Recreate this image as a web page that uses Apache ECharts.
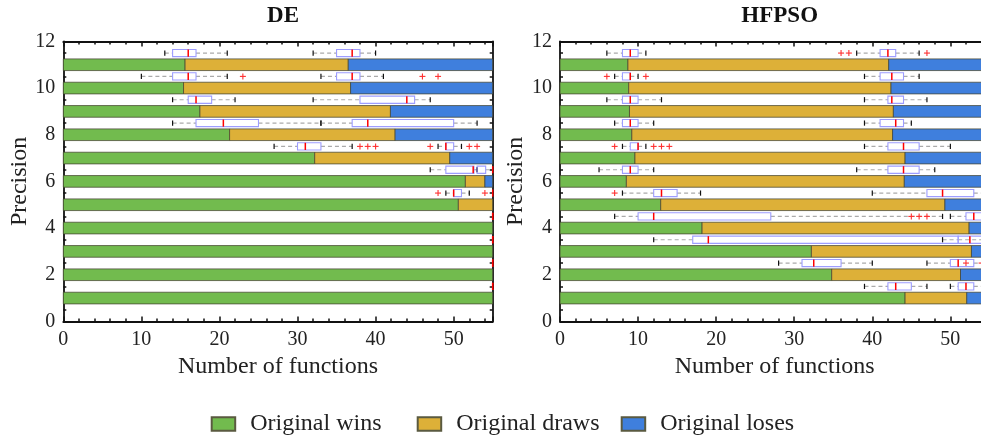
<!DOCTYPE html>
<html>
<head>
<meta charset="utf-8">
<script src="https://cdn.jsdelivr.net/npm/echarts@6/dist/echarts.min.js"></script>
<style>
html,body{margin:0;padding:0;background:#fff;}
#chart{width:981px;height:436px;}
</style>
</head>
<body>
<div id="chart"></div>
<script>
// ---------------- DATA ----------------
const panelTitles = ['DE', 'HFPSO'];
const seriesNames = ['Original wins', 'Original draws', 'Original loses'];
const precisionRows = [1, 2, 3, 4, 5, 6, 7, 8, 9, 10, 11];
const boxRows = [1.5, 2.5, 3.5, 4.5, 5.5, 6.5, 7.5, 8.5, 9.5, 10.5, 11.5];
const xTickLabels = [0, 10, 20, 30, 40, 50];
const yTickLabels = [0, 2, 4, 6, 8, 10, 12];

// DE panel (rows precision 1..11)
const DE_wins  = [55, 55, 55, 55, 50.6, 51.5, 32.2, 21.3, 17.5, 15.4, 15.6];
const DE_draws = [0, 0, 0, 0, 4.4, 2.5, 17.3, 21.2, 24.4, 21.4, 20.9];
const DE_loses = [0, 0, 0, 0, 0, 1.0, 5.5, 12.5, 13.1, 18.2, 18.5];

// DE boxplots, rows 1.5..11.5: [low, q1, median, q3, high]
const DE_boxA = [
  [55, 55, 55, 55, 55], [55, 55, 55, 55, 55], [55, 55, 55, 55, 55], [55, 55, 55, 55, 55],
  [49, 50, 50, 51, 52], [47, 49, 52.5, 52.6, 53], [27, 30, 31, 33, 37], [14, 17, 20.5, 25, 33],
  [14, 16, 17, 19, 22], [10, 14, 16, 17, 21], [13, 14, 16, 17, 21]
];
const DE_outA = [[], [], [], [], [48, 54], [], [38, 39, 40], [], [], [23], []];
const DE_boxB = [
  [55, 55, 55, 55, 55], [55, 55, 55, 55, 55], [55, 55, 55, 55, 55], [55, 55, 55, 55, 55],
  [55, 55, 55, 55, 55], [53, 53, 55, 54.1, 55], [48, 49, 49, 50, 51], [33, 37, 39, 50, 53],
  [32, 38, 44, 45, 47], [33, 35, 37, 38, 41], [32, 35, 37, 38, 40]
];
const DE_outB = [[], [], [], [], [], [], [47, 52, 53], [], [], [46, 48], []];

// HFPSO panel
const HF_wins  = [44.2, 34.8, 32.2, 18.2, 12.9, 8.5, 9.6, 9.2, 8.9, 8.8, 8.7];
const HF_draws = [7.9, 16.5, 20.5, 34.2, 36.4, 35.6, 34.6, 33.4, 33.8, 33.6, 33.4];
const HF_loses = [2.9, 3.7, 2.3, 2.6, 5.7, 10.9, 10.8, 12.4, 12.3, 12.6, 12.9];

const HF_boxA = [
  [39, 42, 43, 45, 47], [28, 31, 32.5, 36, 40], [12, 17, 19, 51, 55], [7, 10, 12, 27, 49],
  [8, 12, 13, 15, 18], [5, 8, 9, 10, 12], [8, 9, 10, 10, 11], [7, 8, 9, 10, 12],
  [6, 8, 9, 10, 13], [7, 8, 9, 9, 10], [6, 8, 9, 10, 11]
];
const HF_outA = [[], [], [], [45, 46, 47], [7], [], [7, 12, 13, 14], [], [], [6, 11], []];
const HF_boxB = [
  [50, 51, 52, 53, 55], [47, 50, 51, 53, 55], [49, 51, 52.5, 55, 55], [50, 52, 53, 55, 55],
  [40, 47, 49, 53, 55], [38, 42, 44, 46, 48], [39, 42, 44, 46, 50], [39, 41, 43, 44, 45],
  [39, 42, 42.5, 44, 47], [39, 41, 42.5, 44, 46], [38, 41, 42, 43, 46]
];
const HF_outB = [[], [52, 54], [], [], [], [], [], [], [], [], [36, 37, 47]];

// ---------------- STYLE ----------------
const FONT = 'Liberation Serif';
const colors = ['#72BB4E', '#DDB038', '#3F7FDD'];
const barEdge = 'rgba(70,70,50,0.75)';

const panels = [
  {wins: DE_wins, draws: DE_draws, loses: DE_loses, boxes: [DE_boxA, DE_boxB], outs: [DE_outA, DE_outB]},
  {wins: HF_wins, draws: HF_draws, loses: HF_loses, boxes: [HF_boxA, HF_boxB], outs: [HF_outA, HF_outB]}
];

const gridDefs = [
  {left: 63.3, top: 41.4, width: 429.4, height: 280},
  {left: 560, top: 41.4, width: 429.4, height: 280}
];

const xAxes = [], yAxes = [], series = [], titles = [];
gridDefs.forEach((g, gi) => {
  const common = {
    type: 'value', gridIndex: gi, min: 0,
    axisLine: {show: true, onZero: false, lineStyle: {color: '#111', width: 1.8}},
    splitLine: {show: false}
  };
  const tick = {show: true, inside: true, length: 5, lineStyle: {color: '#111', width: 1.5}};
  xAxes.push(Object.assign({}, common, {
    position: 'bottom', max: 55, interval: 10,
    axisTick: tick,
    minorTick: {show: true, splitNumber: 5, length: 3, lineStyle: {color: '#111', width: 1.5}},
    axisLabel: {show: true, fontFamily: FONT, fontSize: 20, color: '#222', margin: 8,
      formatter: v => xTickLabels.includes(v) ? String(v) : ''},
    name: 'Number of functions', nameLocation: 'middle', nameGap: 33,
    nameTextStyle: {fontFamily: FONT, fontSize: 24, color: '#222'}
  }));
  xAxes.push(Object.assign({}, common, {
    position: 'top', max: 55, interval: 10,
    axisTick: tick,
    minorTick: {show: true, splitNumber: 5, length: 3, lineStyle: {color: '#111', width: 1.5}},
    axisLabel: {show: false}
  }));
  yAxes.push(Object.assign({}, common, {
    position: 'left', max: 12, interval: 2,
    axisTick: tick,
    minorTick: {show: true, splitNumber: 4, length: 3, lineStyle: {color: '#111', width: 1.5}},
    axisLabel: {show: true, fontFamily: FONT, fontSize: 20, color: '#222', margin: 8,
      formatter: v => yTickLabels.includes(v) ? String(v) : ''},
    name: 'Precision', nameLocation: 'middle', nameGap: 30, nameRotate: 90,
    nameTextStyle: {fontFamily: FONT, fontSize: 24, color: '#222'}
  }));
  yAxes.push(Object.assign({}, common, {
    position: 'right', max: 12, interval: 2,
    axisTick: tick,
    minorTick: {show: true, splitNumber: 4, length: 3, lineStyle: {color: '#111', width: 1.5}},
    axisLabel: {show: false}
  }));
  titles.push({
    text: panelTitles[gi], left: g.left + 429.4 / 2, top: 0, textAlign: 'center',
    textStyle: {fontFamily: FONT, fontSize: 23, fontWeight: 'bold', color: '#111'}
  });
});

function barRender(color) {
  return function (params, api) {
    const s = api.value(0), e = api.value(1), y = api.value(2);
    if (e - s <= 0) return null;
    const p0 = api.coord([s, y]);
    const p1 = api.coord([e, y]);
    const h = api.size([0, 0.5])[1];
    return {
      type: 'rect',
      shape: {x: p0[0], y: p0[1] - h / 2, width: p1[0] - p0[0], height: h},
      style: {fill: color, stroke: barEdge, lineWidth: 1}
    };
  };
}

function boxRender(params, api) {
  const y = api.value(0);
  const lo = api.coord([api.value(1), y]);
  const q1 = api.coord([api.value(2), y]);
  const md = api.coord([api.value(3), y]);
  const q3 = api.coord([api.value(4), y]);
  const hi = api.coord([api.value(5), y]);
  const cy = lo[1];
  const bh = 3.6, ch = 2.6;
  const dash = {stroke: '#aaaaaa', lineWidth: 1.2, lineDash: [4, 3]};
  const children = [];
  if (q1[0] - lo[0] > 0.5) children.push({type: 'line', shape: {x1: lo[0], y1: cy, x2: q1[0], y2: cy}, style: dash});
  if (hi[0] - q3[0] > 0.5) children.push({type: 'line', shape: {x1: q3[0], y1: cy, x2: hi[0], y2: cy}, style: dash});
  children.push({type: 'line', shape: {x1: lo[0], y1: cy - ch, x2: lo[0], y2: cy + ch}, style: {stroke: '#111', lineWidth: 1.2}});
  children.push({type: 'line', shape: {x1: hi[0], y1: cy - ch, x2: hi[0], y2: cy + ch}, style: {stroke: '#111', lineWidth: 1.2}});
  if (q3[0] - q1[0] > 0.5) {
    children.push({type: 'rect', shape: {x: q1[0], y: cy - bh, width: q3[0] - q1[0], height: 2 * bh},
      style: {fill: 'none', stroke: '#9d9dff', lineWidth: 1.1}});
  }
  children.push({type: 'line', shape: {x1: md[0], y1: cy - bh, x2: md[0], y2: cy + bh}, style: {stroke: '#ff0000', lineWidth: 1.5}});
  return {type: 'group', children: children};
}

function outRender(params, api) {
  const p = api.coord([api.value(0), api.value(1)]);
  const r = 3;
  return {
    type: 'group',
    children: [
      {type: 'line', shape: {x1: p[0] - r, y1: p[1], x2: p[0] + r, y2: p[1]}, style: {stroke: '#ff3030', lineWidth: 1.1}},
      {type: 'line', shape: {x1: p[0], y1: p[1] - r, x2: p[0], y2: p[1] + r}, style: {stroke: '#ff3030', lineWidth: 1.1}}
    ]
  };
}

panels.forEach((p, gi) => {
  const parts = [p.wins, p.draws, p.loses];
  const cum = precisionRows.map(() => 0);
  parts.forEach((arr, si) => {
    const data = precisionRows.map((y, i) => {
      const s = cum[i];
      cum[i] += arr[i];
      return [s, cum[i], y];
    });
    series.push({
      type: 'custom', name: seriesNames[si], coordinateSystem: 'cartesian2d',
      xAxisIndex: gi * 2, yAxisIndex: gi * 2, z: 2,
      itemStyle: {color: colors[si], borderColor: '#5a5a40', borderWidth: 1},
      renderItem: barRender(colors[si]),
      encode: {x: [0, 1], y: 2},
      data: data
    });
  });
  p.boxes.forEach(box => {
    series.push({
      type: 'custom', coordinateSystem: 'cartesian2d',
      xAxisIndex: gi * 2, yAxisIndex: gi * 2, z: 3, silent: true,
      renderItem: boxRender,
      encode: {x: [1, 2, 3, 4, 5], y: 0},
      data: boxRows.map((y, i) => [y].concat(box[i]))
    });
  });
  p.outs.forEach(outs => {
    const d = [];
    boxRows.forEach((y, i) => outs[i].forEach(v => d.push([v, y])));
    series.push({
      type: 'custom', coordinateSystem: 'cartesian2d',
      xAxisIndex: gi * 2, yAxisIndex: gi * 2, z: 4, silent: true,
      renderItem: outRender,
      encode: {x: 0, y: 1},
      data: d
    });
  });
});

const legendLefts = [210.7, 416.7, 620.7];
const legends = seriesNames.map((n, i) => ({
  data: [n], left: legendLefts[i], top: 412, padding: 0,
  itemWidth: 23.5, itemHeight: 13.5, icon: 'rect',
  textStyle: {fontFamily: FONT, fontSize: 24, color: '#222', padding: [0, 0, 0, 10]}
}));

const chart = echarts.init(document.getElementById('chart'), null, {renderer: 'canvas'});
chart.setOption({
  animation: false,
  backgroundColor: '#fff',
  title: titles,
  grid: gridDefs.map(g => Object.assign({containLabel: false, outerBoundsMode: 'none'}, g)),
  xAxis: xAxes,
  yAxis: yAxes,
  legend: legends,
  series: series
});
</script>
</body>
</html>
